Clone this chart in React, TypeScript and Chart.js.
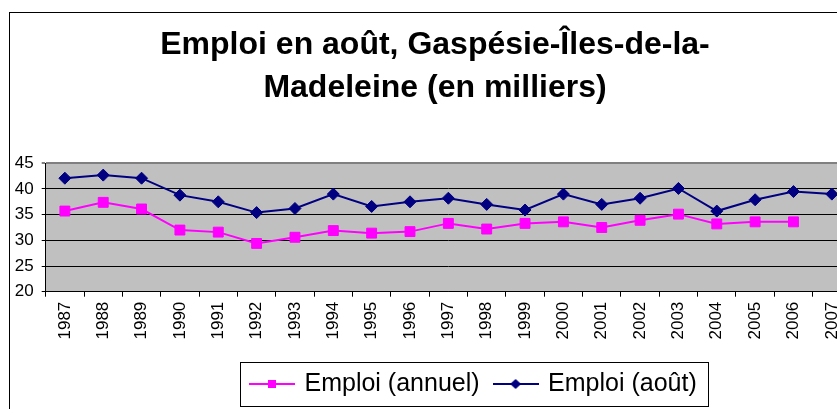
import React, { useEffect, useRef } from 'react';
import { Chart, registerables } from 'chart.js';

Chart.register(...registerables);

// ---- Data ----
const categories = [
  '1987', '1988', '1989', '1990', '1991', '1992', '1993', '1994', '1995', '1996', '1997',
  '1998', '1999', '2000', '2001', '2002', '2003', '2004', '2005', '2006', '2007',
];
const emploiAnnuel: (number | null)[] = [
  35.7, 37.4, 36.1, 32.0, 31.6, 29.4, 30.6, 31.9, 31.4, 31.7, 33.3,
  32.2, 33.3, 33.6, 32.5, 33.9, 35.1, 33.2, 33.6, 33.6, null,
];
const emploiAout: number[] = [
  42.1, 42.7, 42.1, 38.8, 37.5, 35.4, 36.2, 39.0, 36.6, 37.5, 38.2,
  37.0, 35.9, 39.0, 37.0, 38.2, 40.1, 35.7, 37.9, 39.5, 39.0,
];
const seriesNames = ['Emploi (annuel)', 'Emploi (août)'];
const titleLines = ['Emploi en août, Gaspésie-Îles-de-la-', 'Madeleine (en milliers)'];
const yMin = 20;
const yMax = 45;
const yStep = 5;

// ---- Style ----
const FONT = '"Liberation Sans", Arial, sans-serif';
const W = 853;
const H = 420;
const MAGENTA = '#FF00FF';
const NAVY = '#000080';
const LEGEND_X = 242;
const TITLE_CX = 425;

function makeIcon(color: string, shape: 'square' | 'diamond') {
  const c = document.createElement('canvas');
  c.width = 46;
  c.height = 14;
  const g = c.getContext('2d')!;
  g.strokeStyle = color;
  g.lineWidth = 2;
  g.beginPath();
  g.moveTo(0, 7);
  g.lineTo(46, 7);
  g.stroke();
  g.fillStyle = color;
  if (shape === 'square') {
    g.fillRect(19, 3, 8, 8);
  } else {
    g.beginPath();
    g.moveTo(23, 2);
    g.lineTo(28.5, 7);
    g.lineTo(23, 12);
    g.lineTo(17.5, 7);
    g.closePath();
    g.fill();
  }
  return c;
}

const plotBg = {
  id: 'plotBg',
  beforeDraw(chart: any) {
    const { ctx, chartArea } = chart;
    ctx.save();
    ctx.fillStyle = '#C0C0C0';
    ctx.fillRect(chartArea.left, chartArea.top, chartArea.right - chartArea.left, chartArea.bottom - chartArea.top);
    ctx.restore();
  },
};

const boxPlace = {
  id: 'boxPlace',
  afterLayout(chart: any) {
    const tb = chart.titleBlock;
    if (tb) {
      const half = (tb.right - tb.left) / 2;
      tb.left = TITLE_CX - half;
      tb.right = TITLE_CX + half;
    }
    const lg = chart.legend;
    if (!lg || !lg.lineWidths) return;
    const pad = lg.options.labels.padding;
    const cur = (lg.left + pad + (lg.right - lg.lineWidths[0])) / 2;
    const dx = LEGEND_X - cur;
    lg.left += dx;
    lg.right += dx;
  },
  afterDraw(chart: any) {
    const lg = chart.legend;
    if (!lg || !lg.lineWidths) return;
    const pad = lg.options.labels.padding;
    const { ctx } = chart;
    const left = LEGEND_X - 12;
    const right = LEGEND_X + lg.lineWidths[0] - pad + 11;
    const top = lg.top + 6.5;
    const bottom = lg.top + 50.5;
    ctx.save();
    ctx.strokeStyle = '#000000';
    ctx.lineWidth = 1;
    ctx.strokeRect(Math.round(left) + 0.5, Math.round(top) + 0.5, Math.round(right - left), Math.round(bottom - top));
    ctx.restore();
  },
};

export default function App() {
  const ref = useRef<HTMLCanvasElement | null>(null);

  useEffect(() => {
    if (!ref.current) return;
    const icons = [makeIcon(MAGENTA, 'square'), makeIcon(NAVY, 'diamond')];
    const chart = new Chart(ref.current, {
      type: 'line',
      data: {
        labels: categories,
        datasets: [
          {
            label: seriesNames[0],
            data: emploiAnnuel,
            borderColor: MAGENTA,
            backgroundColor: MAGENTA,
            borderWidth: 2,
            pointStyle: 'rect',
            pointRadius: 7,
            pointBorderWidth: 1,
            pointBorderColor: MAGENTA,
            pointBackgroundColor: MAGENTA,
            tension: 0,
            spanGaps: false,
          },
          {
            label: seriesNames[1],
            data: emploiAout,
            borderColor: NAVY,
            backgroundColor: NAVY,
            borderWidth: 2,
            pointStyle: 'rectRot',
            pointRadius: 6,
            pointBorderWidth: 1,
            pointBorderColor: NAVY,
            pointBackgroundColor: NAVY,
            tension: 0,
          },
        ],
      },
      options: {
        responsive: false,
        animation: false,
        events: [],
        layout: { padding: { left: 0, right: 12, top: 0, bottom: 26.5 } },
        plugins: {
          title: {
            display: true,
            text: titleLines,
            color: '#000000',
            font: { family: FONT, size: 32, weight: 'bold', lineHeight: 43 / 32 },
            padding: { top: 11, bottom: 53.3 },
          },
          legend: {
            display: true,
            position: 'bottom',
            labels: {
              usePointStyle: true,
              pointStyleWidth: 40,
              padding: 16,
              color: '#000000',
              font: { family: FONT, size: 25 },
              generateLabels: (c: any) => {
                const items = (Chart.defaults as any).plugins.legend.labels.generateLabels(c);
                return items.map((it: any, i: number) => ({ ...it, pointStyle: icons[i] }));
              },
            },
          },
          tooltip: { enabled: false },
        },
        scales: {
          x: {
            type: 'category',
            offset: true,
            grid: {
              display: true,
              drawOnChartArea: false,
              drawTicks: true,
              tickLength: 5,
              offset: true,
              color: '#000000',
            },
            border: { display: true, color: '#000000', width: 1 },
            ticks: {
              autoSkip: false,
              minRotation: 90,
              maxRotation: 90,
              padding: 5,
              color: '#000000',
              font: { family: FONT, size: 17 },
            },
            afterFit: (s: any) => {
              s.height = 63.8;
            },
          },
          y: {
            min: yMin,
            max: yMax,
            ticks: {
              stepSize: yStep,
              padding: 8,
              color: '#000000',
              font: { family: FONT, size: 17 },
            },
            grid: {
              drawTicks: true,
              tickLength: 4,
              color: (ctx: any) => (ctx.tick && ctx.tick.value === yMax ? '#808080' : '#000000'),
              lineWidth: (ctx: any) => (ctx.tick && ctx.tick.value === yMax ? 2 : 1),
            },
            border: { display: true, color: '#000000', width: 1 },
            afterFit: (s: any) => {
              s.width = 35.7;
            },
          },
        },
      },
      plugins: [plotBg, boxPlace],
    } as any);
    return () => chart.destroy();
  }, []);

  return (
    <div style={{ position: 'absolute', left: 0, top: 0, width: 837, height: 409, overflow: 'hidden', background: '#fff' }}>
      <div
        style={{
          position: 'absolute',
          left: 9,
          top: 12,
          width: W + 2,
          height: H + 2,
          border: '1px solid #000',
          boxSizing: 'border-box',
        }}
      />
      <canvas ref={ref} width={W} height={H} style={{ position: 'absolute', left: 10, top: 13, width: W, height: H }} />
    </div>
  );
}
